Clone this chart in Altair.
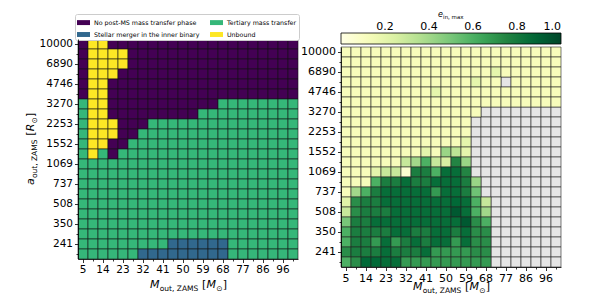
import altair as alt
import pandas as pd

# ---------------- data ----------------
masses = [5.0, 9.5, 14.0, 18.6, 23.1, 27.6, 32.1, 36.7, 41.2, 45.7, 50.2,
          54.8, 59.3, 63.8, 68.3, 72.9, 77.4, 81.9, 86.4, 91.0, 95.5, 100.0]
a_out = [200, 241, 290, 350, 422, 508, 612, 737, 888, 1069, 1288,
         1552, 1869, 2253, 2714, 3270, 3939, 4746, 5718, 6890, 8300, 10000]
x_ticklabels = ["5", "14", "23", "32", "41", "50", "59", "68", "77", "86", "96"]
y_ticklabels = ["241", "350", "508", "737", "1069", "1552", "2253", "3270", "4746", "6890", "10000"]

categories = ["No post-MS mass transfer phase", "Stellar merger in the inner binary",
              "Tertiary mass transfer", "Unbound"]
cat_codes = {"P": 0, "B": 1, "T": 2, "U": 3}
cat_colors = ["#440154", "#31688e", "#35b779", "#fde725"]

# rows from top (a=10000) to bottom (a=200), columns from M=5 to M=100
outcome_rows = [
    "PUUPPPPPPPPPPPPPPPPPPP",
    "PUUUUPPPPPPPPPPPPPPPPP",
    "PUUUUPPPPPPPPPPPPPPPPP",
    "PUUUPPPPPPPPPPPPPPPPPP",
    "PUUPPPPPPPPPPPPPPPPPPP",
    "PUUPPPPPPPPPPPPPPPPPPP",
    "TUUPPPPPPPPPPPTTTTTTTT",
    "TUUPPPPPPPPPTTTTTTTTTT",
    "TUUUPPPTTTTTTTTTTTTTTT",
    "TUUUPPTTTTTTTTTTTTTTTT",
    "TUUPPTTTTTTTTTTTTTTTTT",
    "TUTPTTTTTTTTTTTTTTTTTT",
    "TTTTTTTTTTTTTTTTTTTTTT",
    "TTTTTTTTTTTTTTTTTTTTTT",
    "TTTTTTTTTTTTTTTTTTTTTT",
    "TTTTTTTTTTTTTTTTTTTTTT",
    "TTTTTTTTTTTTTTTTTTTTTT",
    "TTTTTTTTTTTTTTTTTTTTTT",
    "TTTTTTTTTTTTTTTTTTTTTT",
    "TTTTTTTTTTTTTTTTTTTTTT",
    "TTTTTTTTTBBBBBBTTTTTTT",
    "TTTTTTBBBBBBBBBTTTTTTT",
]

N = None
e_max_rows = [
    [.12, .12, .12, .12, .12, .12, .12, .12, .12, .12, .12, .12, .12, .12, .12, .12, .12, .12, .12, .12, .12, .12],
    [.12, .12, .12, .12, .12, .12, .12, .12, .12, .12, .12, .12, .12, .12, .12, .12, .12, .12, .12, .12, .12, .12],
    [.12, .12, .12, .12, .12, .12, .12, .12, .12, .12, .12, .12, .12, .12, .12, .2, .12, .12, .12, .12, .12, .12],
    [.12, .12, .12, .12, .12, .12, .12, .12, .12, .12, .12, .12, .12, .2, .12, .12, N, .12, .12, .12, .12, .12],
    [.12, .12, .12, .12, .12, .12, .12, .12, .12, .2, .12, .12, .12, .12, .12, .12, .12, .12, .12, .12, .12, .12],
    [.12, .12, .12, .12, .12, .12, .12, .12, .12, .12, .12, .12, .12, .12, .12, .12, .12, .12, .12, .12, .12, .12],
    [.12, .12, .12, .12, .12, .12, .12, .12, .12, .12, .12, .12, .12, .12, N, N, N, N, N, N, N, N],
    [.12, .12, .12, .12, .12, .12, .12, .12, .12, .12, .12, .12, .12, N, N, N, N, N, N, N, N, N],
    [.12, .12, .12, .12, .12, .12, .12, .12, .12, .12, .12, .12, .12, N, N, N, N, N, N, N, N, N],
    [.12, .12, .12, .12, .12, .12, .12, .12, .12, .12, .12, .12, .2, N, N, N, N, N, N, N, N, N],
    [.12, .12, .12, .12, .12, .12, .12, .12, .2, .12, .42, .33, .2, N, N, N, N, N, N, N, N, N],
    [.12, .12, .12, .12, .12, .12, .3, .4, .6, .3, .25, .75, .42, N, N, N, N, N, N, N, N, N],
    [.12, .12, .12, .2, .3, .3, .06, .78, .78, .6, .85, .85, .75, N, N, N, N, N, N, N, N, N],
    [.12, .12, .12, .6, .78, .78, .85, .78, .78, .85, .85, .85, .78, .42, N, N, N, N, N, N, N, N],
    [.12, .4, .6, .78, .85, .85, .85, .85, .85, .68, .85, .85, .78, .52, N, N, N, N, N, N, N, N],
    [.22, .72, .78, .78, .85, .85, .85, .85, .85, .85, .85, .87, .85, .6, .3, N, N, N, N, N, N, N],
    [.3, .72, .78, .78, .78, .85, .85, .85, .85, .85, .85, .93, .85, .6, .4, N, N, N, N, N, N, N],
    [.5, .78, .78, .85, .85, .85, .85, .85, .85, .85, .85, .85, .93, .72, .6, N, N, N, N, N, N, N],
    [.6, .78, .78, .78, .78, .85, .85, .78, .78, .85, .85, .78, .85, .72, .72, N, N, N, N, N, N, N],
    [.6, .78, .78, .68, .85, .68, .78, .85, .78, .85, .85, .68, .85, .72, .72, N, N, N, N, N, N, N],
    [.72, .78, .78, .78, .85, .78, .78, .78, .85, .68, .68, .68, .68, .72, .72, N, N, N, N, N, N, N],
    [.6, .72, .87, .87, .85, .85, .68, .68, .68, .68, .68, .68, .68, .68, .68, N, N, N, N, N, N, N],
]
cbar_ticks = [0.2, 0.4, 0.6, 0.8, 1.0]
ylgn_stops = [0, 0.125, 0.25, 0.375, 0.5, 0.625, 0.75, 0.875, 1.0]
ylgn_colors = ["#ffffe5", "#f7fcb9", "#d9f0a3", "#addd8e", "#78c679",
               "#41ab5d", "#238443", "#006837", "#004529"]

for row in outcome_rows:
    assert len(row) == 22, row
for row in e_max_rows:
    assert len(row) == 22, row

# ---------------- table ----------------
m_labels = [f"{v:.0f}" for v in masses]
a_labels = [str(v) for v in a_out]
records = []
for r in range(22):
    for c in range(22):
        records.append({
            "m": m_labels[c],
            "a": a_labels[21 - r],
            "cat": categories[cat_codes[outcome_rows[r][c]]],
            "e": e_max_rows[r][c],
        })
df = pd.DataFrame(records)
dummy = pd.DataFrame({"d": [0]})

FONT = "DejaVu Sans"
W = H = 220
SHIFT = 8  # right panel sits 8px lower than the left one


def js_list(items):
    return "[" + ",".join(f"'{t}'" for t in items) + "]"


XT = js_list(x_ticklabels)
YT = js_list(y_ticklabels)


def axis(tl, fs):
    return alt.Axis(
        title=None, labelAngle=0, labelOverlap=False,
        labelExpr=f"indexof({tl}, datum.value) >= 0 ? datum.value : ''",
        tickSize={"condition": {"test": f"indexof({tl}, datum.value) >= 0", "value": 3.5}, "value": 2},
        labelFontSize=fs, labelFont=FONT, labelColor="black",
        tickColor="black", tickWidth=0.8, domainColor="black", domainWidth=0.8,
        labelPadding=2, grid=False,
    )


def enc_xy(fs, yrange):
    return dict(
        x=alt.X("m:O", sort=m_labels, scale=alt.Scale(paddingInner=0, paddingOuter=0), axis=axis(XT, fs)),
        y=alt.Y("a:O", sort=list(reversed(a_labels)),
                scale=alt.Scale(paddingInner=0, paddingOuter=0, range=yrange), axis=axis(YT, fs)),
    )


def rich(pieces, x0, y0, angle=0):
    """pieces: (text, fontsize, italic, dy, advance_px)"""
    layers = []
    off = 0.0
    for txt, size, ital, dy, adv in pieces:
        layers.append(
            alt.Chart(dummy).mark_text(
                text=txt, font=FONT, fontSize=size, fontStyle="italic" if ital else "normal",
                align="left", baseline="alphabetic", angle=angle, dx=off, dy=dy, color="black",
            ).encode(x=alt.value(x0), y=alt.value(y0))
        )
        off += adv
    return layers


def title_pieces(var, var_adv, unit, unit_adv):
    return [
        (var, 11, True, 0, var_adv),
        ("out, ZAMS", 7.5, False, 2.5, 42.3),
        ("[", 11, False, 0, 4.5),
        (unit, 11, True, 0, unit_adv),
        ("⊙", 7.5, False, 2.5, 6.5),
        ("]", 11, False, 0, 4.3),
    ]


# ---------------- left panel ----------------
left_rect = alt.Chart(df).mark_rect(stroke="#111111", strokeWidth=0.7, strokeOpacity=0.85).encode(
    color=alt.Color(
        "cat:N",
        scale=alt.Scale(domain=categories, range=cat_colors),
        legend=alt.Legend(
            orient="none", legendX=-3, legendY=-25, columns=2, title=None,
            symbolType="M-1,-0.38H1V0.38H-1Z", symbolSize=169, symbolStrokeWidth=0,
            symbolOpacity=1, labelFontSize=6.3, labelFont=FONT, labelColor="black",
            padding=2, rowPadding=2, columnPadding=10, strokeColor="#cccccc",
            fillColor="white", cornerRadius=2, labelLimit=300, labelOffset=4,
        ),
    ),
    **enc_xy(10.5, [0, H]),
)

ytitle = rich(title_pieces("a", 6.9, "R", 7.8), -44, 146, angle=270)
xtitle_l = rich(title_pieces("M", 9.7, "M", 9.7), 72, 249)

left = alt.layer(left_rect, *ytitle, *xtitle_l).properties(width=W, height=H)

# ---------------- right panel ----------------
base_r = alt.Chart(df).encode(**enc_xy(11, [SHIFT, H + SHIFT]))
grey = base_r.transform_filter("!isValid(datum.e)").mark_rect(
    color="#e5e5e5", stroke="#222222", strokeWidth=0.7, strokeOpacity=0.85)
colored = base_r.transform_filter("isValid(datum.e)").mark_rect(
    stroke="#222222", strokeWidth=0.7, strokeOpacity=0.85).encode(
    color=alt.Color(
        "e:Q",
        scale=alt.Scale(domain=ylgn_stops, range=ylgn_colors, interpolate="rgb"),
        legend=alt.Legend(
            orient="none", legendX=0, legendY=-6, direction="horizontal",
            gradientLength=220, gradientThickness=11, title=None, values=cbar_ticks,
            labelOffset={"expr": "-23"}, labelAlign="center", labelFontSize=11, labelFont=FONT,
            labelColor="black", gradientStrokeColor="black", gradientStrokeWidth=0.8,
            labelOverlap=False, padding=0, format=".1f",
        ),
    )
)
xtitle_r = rich(title_pieces("M", 9.7, "M", 9.7), 72, 251)
cbar_title = rich([("e", 8, True, 0, 5.1), ("in, max", 5.5, False, 2, 20.5)], 97, -22)

right = alt.layer(grey, colored, *xtitle_r, *cbar_title).properties(width=W, height=H + SHIFT)

chart = alt.hconcat(left, right, spacing=0).resolve_scale(
    color="independent").resolve_legend(color="independent").properties(
    padding={"left": 17, "top": 3, "right": 5, "bottom": 0}
).configure_view(strokeWidth=0)

chart.save("out.html", embed_options={"renderer": "svg", "actions": False})
